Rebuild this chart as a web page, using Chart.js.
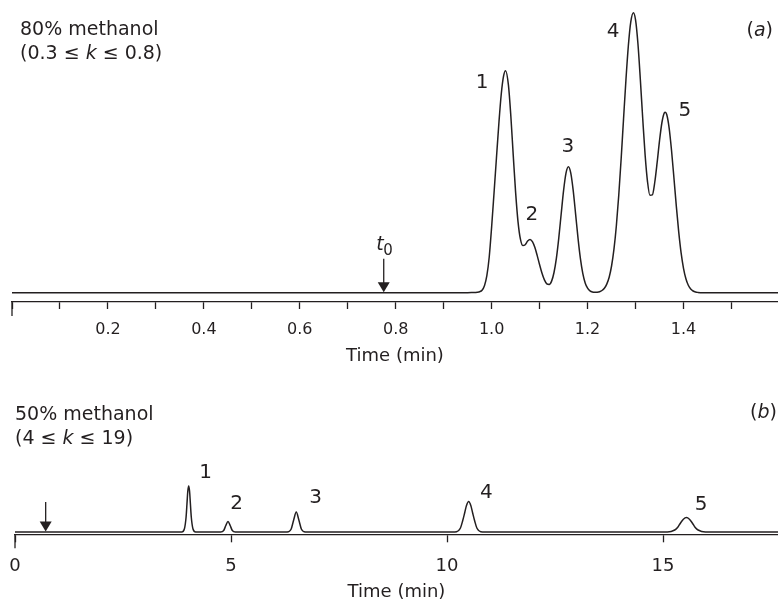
<!DOCTYPE html>
<html>
<head>
<meta charset="utf-8">
<script src="https://cdn.jsdelivr.net/npm/chart.js@4.4.1/dist/chart.umd.min.js"></script>
<style>
  body { margin: 0; background: #fff; }
  #wrap { position: relative; width: 778px; height: 603px; overflow: hidden; }
  canvas { position: absolute; left: 0; }
  .lbl { position: absolute; font-family: "DejaVu Sans", sans-serif; font-size: 19px; line-height: 24px; color: #231f20; white-space: nowrap; }
</style>
</head>
<body>
<div id="wrap">
  <canvas id="chartA" width="778" height="370" style="top:0"></canvas>
  <canvas id="chartB" width="778" height="233" style="top:370px"></canvas>
  <div class="lbl" style="left:20px;top:16px">80% methanol<br>(0.3 ≤ <i>k</i> ≤ 0.8)</div>
  <div class="lbl" style="right:5px;top:17px">(<i>a</i>)</div>
  <div class="lbl" style="left:15px;top:401px">50% methanol<br>(4 ≤ <i>k</i> ≤ 19)</div>
  <div class="lbl" style="right:1px;top:399px">(<i>b</i>)</div>
</div>
<script>
// (a) 80% methanol - time (min) and detector signal (arbitrary units)
const timeA = [0, 0.950, 0.960, 0.970, 0.975, 0.980, 0.985, 0.990, 0.995, 1.000, 1.005, 1.010,
  1.015, 1.020, 1.025, 1.029, 1.035, 1.040, 1.045, 1.050, 1.055, 1.060, 1.065, 1.070,
  1.075, 1.080, 1.085, 1.090, 1.095, 1.100, 1.105, 1.110, 1.115, 1.120, 1.125, 1.130,
  1.135, 1.140, 1.145, 1.150, 1.155, 1.160, 1.165, 1.170, 1.175, 1.180, 1.185, 1.190,
  1.195, 1.200, 1.205, 1.210, 1.215, 1.220, 1.225, 1.230, 1.235, 1.240, 1.245, 1.250,
  1.255, 1.260, 1.265, 1.270, 1.275, 1.280, 1.285, 1.290, 1.2955, 1.300, 1.305, 1.310,
  1.315, 1.320, 1.325, 1.330, 1.335, 1.340, 1.345, 1.350, 1.355, 1.360, 1.362, 1.365,
  1.370, 1.375, 1.380, 1.385, 1.390, 1.395, 1.400, 1.405, 1.410, 1.415, 1.420, 1.425,
  1.430, 1.440, 1.597];
const signalA = [0, 0, 0.2, 0.5, 1, 2.5, 7, 17, 36, 66, 100, 134.7,
  169, 198.5, 217, 222, 207.5, 176.7, 137.6, 100.1, 70.9, 53.5, 47.1, 48,
  51.6, 53.3, 51.1, 45.4, 37.1, 27.9, 19.4, 12.8, 8.9, 8.3, 11.6, 20.2,
  34.6, 54.9, 78.9, 102.3, 119.6, 126, 119.6, 102.3, 78.9, 54.8, 34.3, 19.4,
  9.8, 4.5, 1.9, 0.7, 0.4, 0.5, 1, 2.2, 4.4, 8.6, 15.5, 26.7,
  43.5, 67, 97.5, 134, 174, 213, 247, 270.6, 280, 272.9, 249, 213.2,
  173.9, 137.4, 110.9, 97.4, 97.8, 110.2, 130, 152.1, 170.2, 179.9, 180.5, 178.2,
  164.9, 142.4, 115, 86.6, 60.8, 39.8, 24.4, 13.9, 7.4, 3.7, 1.7, 0.7,
  0.3, 0, 0];

// (b) 50% methanol
const timeB = [0, 3.86, 3.92, 3.96, 3.98, 4.00, 4.02, 4.04, 4.06, 4.08, 4.12, 4.18,
  4.76, 4.83, 4.88, 4.93, 4.98, 5.03, 5.10,
  6.30, 6.39, 6.45, 6.51, 6.57, 6.63, 6.72,
  10.18, 10.31, 10.36, 10.41, 10.45, 10.50, 10.55, 10.59, 10.64, 10.69, 10.82,
  15.10, 15.27, 15.34, 15.40, 15.47, 15.54, 15.61, 15.68, 15.74, 15.81, 15.98, 17.66];
const signalB = [0, 0, 3, 15, 28, 41, 46, 41, 28, 15, 3, 0,
  0, 1.5, 6.5, 10.5, 6.5, 1.5, 0,
  0, 2.7, 12, 20, 12, 2.7, 0,
  0, 4, 11, 19.5, 26.5, 30.5, 26.5, 19.5, 11, 4, 0,
  0, 2, 4.7, 8.8, 12.8, 14.5, 12.8, 8.8, 4.7, 2, 0, 0];

const peakNames = ['1', '2', '3', '4', '5'];
const labelTimeA = [0.980, 1.084, 1.159, 1.253, 1.403];
const labelSignalA = [210, 78, 146, 261, 182];
const labelTimeB = [4.41, 5.13, 6.96, 10.91, 15.88];
const labelSignalB = [59, 28, 34, 39, 27];

const tickValuesA = [0, 0.1, 0.2, 0.3, 0.4, 0.5, 0.6, 0.7, 0.8, 0.9, 1.0, 1.1, 1.2, 1.3, 1.4, 1.5];
const tickLabelsA = ['', '', '0.2', '', '0.4', '', '0.6', '', '0.8', '', '1.0', '', '1.2', '', '1.4', ''];
const tickValuesB = [0, 5, 10, 15];
const tickLabelsB = ['0', '5', '10', '15'];

const t0A = 0.775;
const t0B = 0.71;

const ink = '#231f20';
Chart.defaults.font.family = '"DejaVu Sans", sans-serif';
Chart.defaults.color = ink;

// longer tick at the left end of the axis, t0 arrow and peak numbers
const annotPlugin = {
  id: 'annot',
  afterDraw(chart, args, opts) {
    const ctx = chart.ctx;
    const xs = chart.scales.x, ys = chart.scales.y;
    const area = chart.chartArea;
    ctx.save();
    ctx.strokeStyle = ink;
    ctx.fillStyle = ink;
    ctx.lineWidth = 1.3;
    // left end tick
    const x0 = xs.getPixelForValue(xs.min);
    ctx.beginPath();
    ctx.moveTo(x0, area.bottom);
    ctx.lineTo(x0, area.bottom + opts.endTick);
    ctx.stroke();
    // arrow
    const ax = xs.getPixelForValue(opts.arrowAt);
    const tip = ys.getPixelForValue(0) - 0.5;
    const top = ys.getPixelForValue(opts.arrowTop);
    ctx.beginPath();
    ctx.moveTo(ax, top);
    ctx.lineTo(ax, tip - 8);
    ctx.stroke();
    ctx.beginPath();
    ctx.moveTo(ax - 6, tip - 10);
    ctx.lineTo(ax + 6, tip - 10);
    ctx.lineTo(ax, tip);
    ctx.closePath();
    ctx.fill();
    if (opts.t0Label) {
      ctx.textBaseline = 'alphabetic';
      ctx.textAlign = 'right';
      ctx.font = 'italic 19px "DejaVu Sans"';
      ctx.fillText('t', ax, top - 9);
      ctx.textAlign = 'left';
      ctx.font = '15px "DejaVu Sans"';
      ctx.fillText('0', ax - 0.5, top - 4);
    }
    // peak numbers
    ctx.font = '20px "DejaVu Sans"';
    ctx.textAlign = 'center';
    ctx.textBaseline = 'middle';
    opts.names.forEach((n, i) => {
      ctx.fillText(n, xs.getPixelForValue(opts.lt[i]), ys.getPixelForValue(opts.ls[i]));
    });
    ctx.restore();
  }
};

function makeChart(id, t, s, cfg) {
  const pts = t.map((v, i) => ({ x: v, y: s[i] }));
  return new Chart(document.getElementById(id), {
    type: 'line',
    data: {
      datasets: [{
        data: pts,
        borderColor: ink,
        borderWidth: 1.5,
        pointRadius: 0,
        fill: false,
        cubicInterpolationMode: 'monotone',
      }],
    },
    options: {
      responsive: false,
      animation: false,
      events: [],
      layout: { padding: { left: cfg.left, right: 0, top: 10, bottom: 0 } },
      plugins: {
        legend: { display: false },
        tooltip: { enabled: false },
        annot: cfg.annot,
      },
      scales: {
        x: {
          type: 'linear',
          min: 0,
          max: cfg.xMax,
          afterBuildTicks: sc => { sc.ticks = cfg.ticks.map(v => ({ value: v })); },
          afterFit: sc => {
            sc.height = cfg.axisHeight;
            sc.paddingLeft = 0;
            sc.paddingRight = 0;
          },
          border: { display: true, color: ink, width: 1.3 },
          grid: { display: true, drawOnChartArea: false, drawTicks: true, tickLength: cfg.tickLen, tickColor: ink, tickWidth: 1.3 },
          ticks: {
            autoSkip: false,
            maxRotation: 0,
            padding: cfg.tickPad,
            color: ink,
            font: { size: cfg.tickFont },
            callback: (v, i) => cfg.labels[i],
          },
          title: {
            display: true,
            text: 'Time (min)',
            color: ink,
            font: { size: 18 },
            padding: { top: 0, bottom: cfg.titlePad },
          },
        },
        y: {
          display: false,
          min: cfg.yMin,
          max: cfg.yMax,
        },
      },
    },
    plugins: [annotPlugin],
  });
}

makeChart('chartA', timeA, signalA, {
  left: 12, xMax: 1.597, ticks: tickValuesA, labels: tickLabelsA,
  axisHeight: 68, tickLen: 7, tickPad: 11, tickFont: 16, titlePad: 3,
  yMin: -9.3, yMax: 282.7,
  annot: { endTick: 14, arrowAt: t0A, arrowTop: 34, t0Label: true,
    names: peakNames, lt: labelTimeA, ls: labelSignalA },
});

makeChart('chartB', timeB, signalB, {
  left: 15, xMax: 17.66, ticks: tickValuesB, labels: tickLabelsB,
  axisHeight: 68.7, tickLen: 8, tickPad: 13, tickFont: 18, titlePad: 0,
  yMin: -2.3, yMax: 152,
  annot: { endTick: 14, arrowAt: t0B, arrowTop: 30, t0Label: false,
    names: peakNames, lt: labelTimeB, ls: labelSignalB },
});
</script>
</body>
</html>
